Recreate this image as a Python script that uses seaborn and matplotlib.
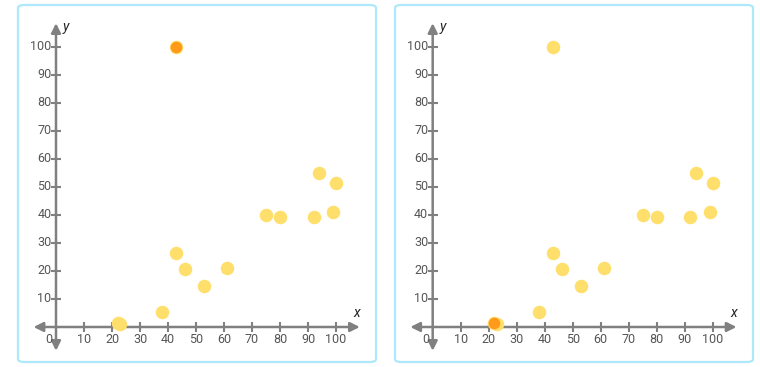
import matplotlib
matplotlib.use("Agg")
import seaborn as sns
import matplotlib.pyplot as plt
from matplotlib.patches import FancyBboxPatch

# scatter data (same points in both panels)
xs = [43, 22, 23, 38, 43, 46, 53, 61, 75, 80, 92, 94, 99, 100]
ys = [100, 1.3, 1.0, 5.2, 26.3, 20.6, 14.6, 21.1, 40.1, 39.2, 39.3, 55.1, 41, 51.3]
# highlighted point in each panel
highlight = [(43, 100), (22, 1.3)]
ticks = [10, 20, 30, 40, 50, 60, 70, 80, 90, 100]

YELLOW = "#ffdf6b"
ORANGE = "#ff9a1a"
GRAY = "#808080"
TEXT = "#555555"
BORDER = "#aee8fb"

sns.set_theme(style="white")
plt.rcParams['font.family'] = ['Roboto', 'DejaVu Sans']

fig = plt.figure(figsize=(7.6, 3.67), dpi=100)
W, H = 760, 367

panel_lefts = [18, 395]
axes_lefts = [28, 404.7]

for i, (pl, al) in enumerate(zip(panel_lefts, axes_lefts)):
    box = FancyBboxPatch((pl / W, 5 / H), 358 / W, 357 / H,
                         boxstyle="round,pad=0,rounding_size=0.008",
                         transform=fig.transFigure, fill=False,
                         edgecolor=BORDER, linewidth=1.6, zorder=0)
    fig.patches.append(box)

    ax = fig.add_axes([al / W, 12 / H, 336 / W, 336 / H])
    ax.set_xlim(-10, 110)
    ax.set_ylim(-10, 110)
    ax.patch.set_alpha(0)
    for s in ax.spines.values():
        s.set_visible(False)

    # axes with arrowheads
    arrow = dict(arrowstyle="<|-|>", color=GRAY, lw=1.8, mutation_scale=14,
                 shrinkA=0, shrinkB=0)
    ax.annotate("", xy=(108.5, 0), xytext=(-8, 0), arrowprops=arrow)
    ax.annotate("", xy=(0, 108.5), xytext=(0, -8.5), arrowprops=arrow)

    # tick marks
    ax.plot(ticks, [0] * len(ticks), ls="none", marker="|", ms=7, mew=1.5, color=GRAY)
    ax.plot([0] * len(ticks), ticks, ls="none", marker="_", ms=7, mew=1.5, color=GRAY)
    ax.set_xticks([])
    ax.set_yticks([])

    for t in ticks:
        ax.text(t, -2.2, str(t), ha="center", va="top", fontsize=9, color=TEXT)
        ax.text(-1.6, t, str(t), ha="right", va="center", fontsize=9, color=TEXT)
    ax.text(-2.6, -2.2, "0", ha="center", va="top", fontsize=9, color=TEXT)
    ax.text(107.5, 2.5, "x", ha="center", va="bottom", fontsize=10,
            style="italic", color="#222222")
    ax.text(2.5, 107, "y", ha="left", va="center", fontsize=10,
            style="italic", color="#222222")

    sns.scatterplot(x=xs, y=ys, ax=ax, color=YELLOW, s=95, linewidth=0,
                    zorder=3, legend=False)
    hx, hy = highlight[i]
    sns.scatterplot(x=[hx], y=[hy], ax=ax, color=ORANGE, s=70, linewidth=0,
                    zorder=4, legend=False)
    ax.set_xlabel("")
    ax.set_ylabel("")

fig.savefig("out.png", dpi=100)
